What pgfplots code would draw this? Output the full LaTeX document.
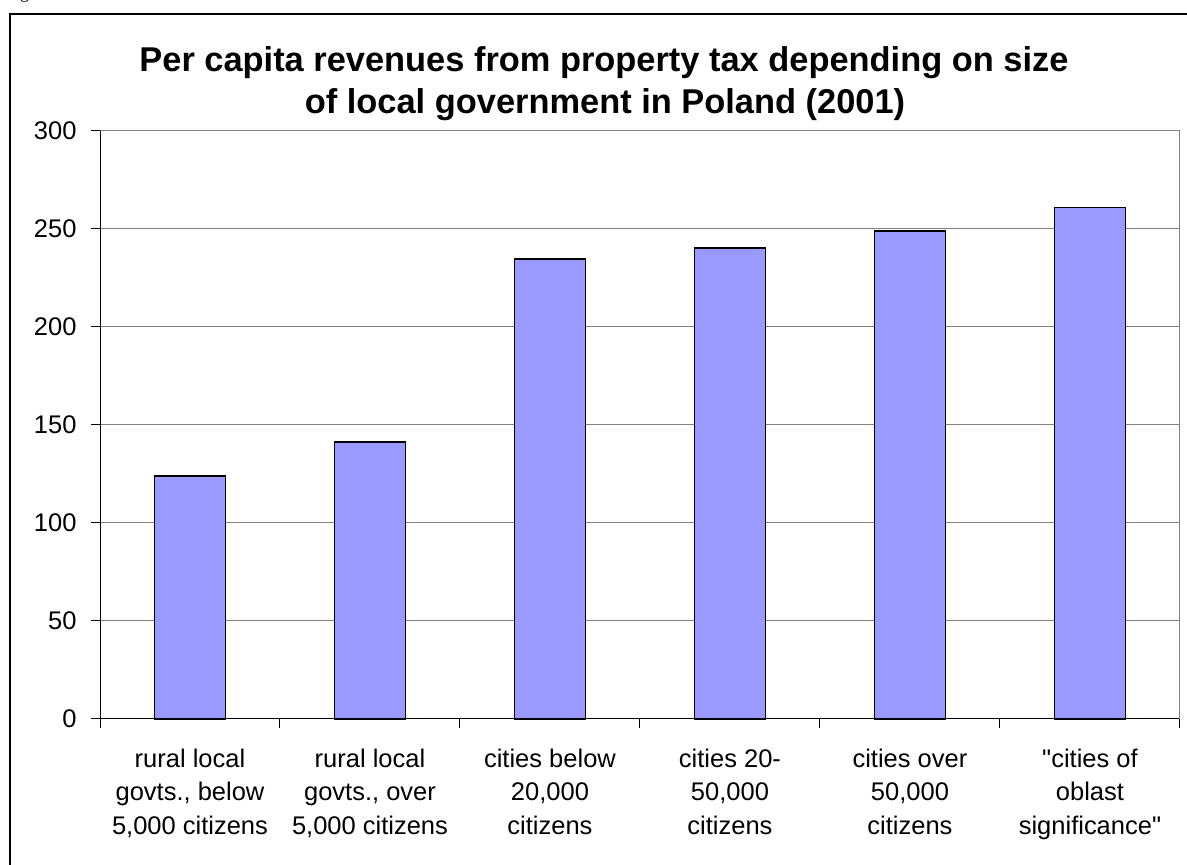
\documentclass[border=0pt]{standalone}
\usepackage{pgfplots}
\pgfplotsset{compat=1.18}
\usepackage{fontspec}
\setmainfont{Liberation Sans}[Ligatures=TeXOff]
\newfontfamily\seriffont{Liberation Serif}
\definecolor{barfill}{HTML}{9999FF}
\definecolor{gridgray}{HTML}{808080}
\begin{document}
\begin{tikzpicture}[x=1pt,y=1pt]
\useasboundingbox (0,0) rectangle (1187,865);
\node[font=\seriffont\fontsize{18}{20}\selectfont, anchor=base west, inner sep=0pt] at (5,866.5) {Figure};
\draw[line width=2pt] (10,-20) -- (10,851) -- (1200,851);
\node[font=\fontsize{34.4}{40}\selectfont\bfseries, anchor=base] at (604,793.3) {Per capita revenues from property tax depending on size};
\node[font=\fontsize{34.4}{40}\selectfont\bfseries, anchor=base] at (605,751.7) {of local government in Poland (2001)};
\begin{axis}[
  at={(100pt,146pt)}, anchor=south west,
  scale only axis, width=1080pt, height=588pt,
  xmin=-0.5, xmax=5.5, ymin=0, ymax=300,
  ytick={0,50,...,300},
  xtick={0,...,5},
  xticklabels={{rural local\\govts., below\\5,000 citizens},{rural local\\govts., over\\5,000 citizens},{cities below\\20,000\\citizens},{cities 20-\\50,000\\citizens},{cities over\\50,000\\citizens},{"cities of\\oblast\\significance"}},
  minor xtick={-0.5,0.5,1.5,2.5,3.5,4.5,5.5},
  axis x line*=bottom, axis y line*=left,
  axis line style={black, line width=1pt},
  tick align=outside,
  major tick length=9pt, minor tick length=9pt,
  x tick style={draw=none},
  minor x tick style={draw=black, line width=1pt},
  y tick style={black, line width=1pt},
  ymajorgrids, major grid style={gridgray, line width=1pt},
  ticklabel style={font=\fontsize{25.5}{33.5}\selectfont},
  xticklabel style={align=center, anchor=north, yshift=-17pt},
  yticklabel style={anchor=east, xshift=-11pt},
  /pgf/number format/assume math mode=true,
  ybar, bar width=71pt,
  clip=false,
]
\addplot[fill=barfill, draw=black, line width=1.5pt] coordinates {(0,124) (1,141.2) (2,234.6) (3,240.2) (4,249) (5,261)};
\draw[gridgray, line width=1pt] (rel axis cs:1,0) -- (rel axis cs:1,1);
\end{axis}
\end{tikzpicture}
\end{document}
